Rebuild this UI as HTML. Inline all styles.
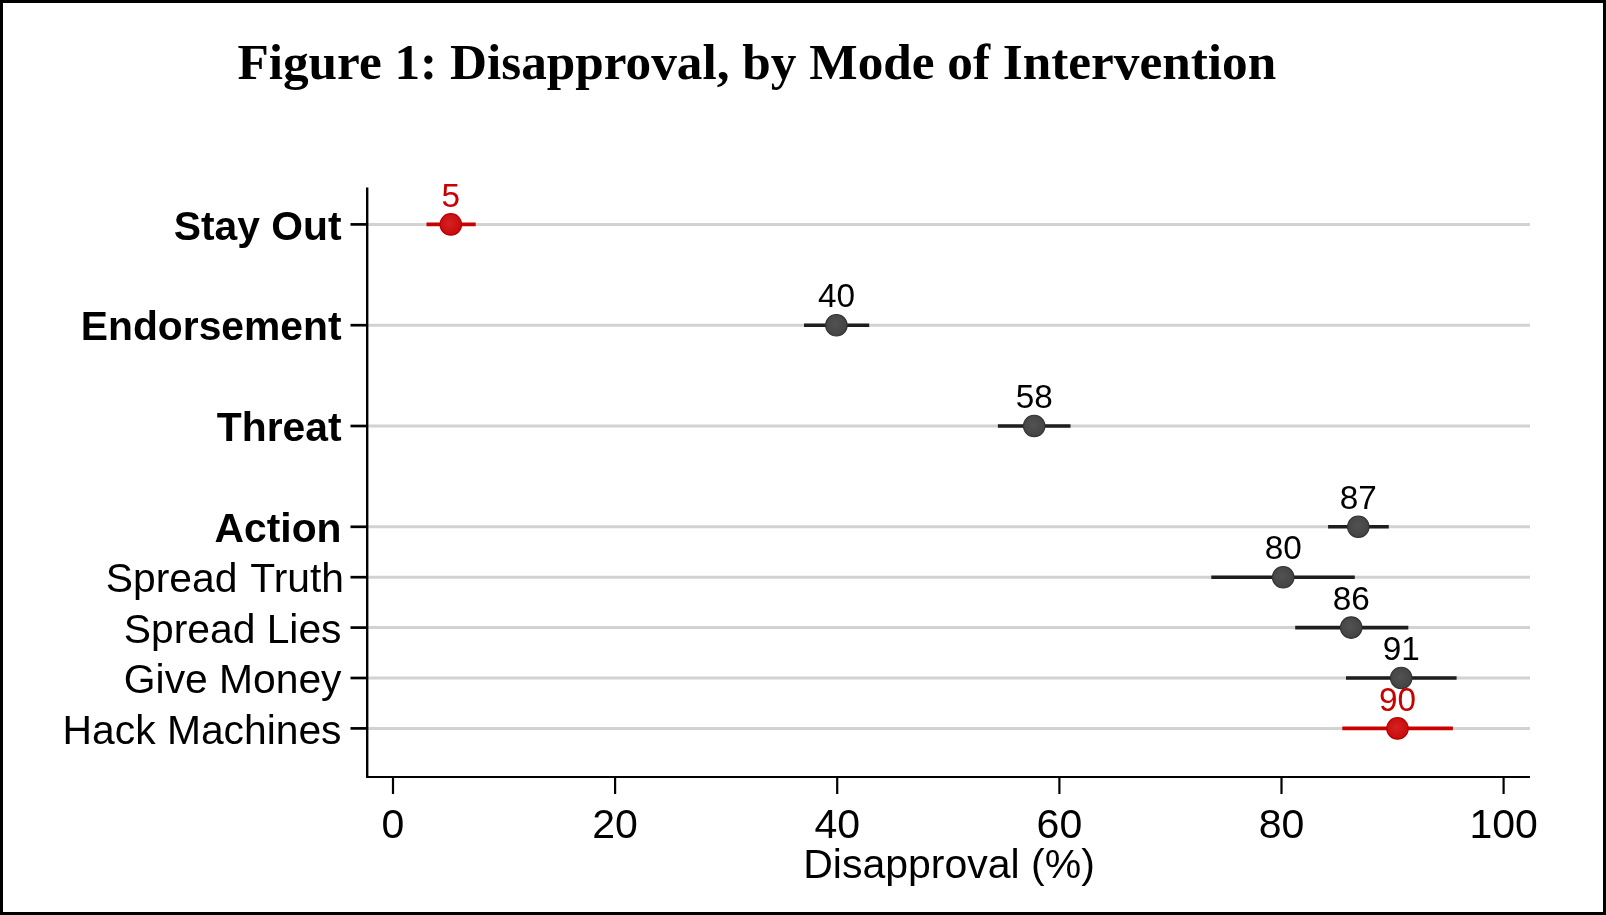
<!DOCTYPE html><html><head><meta charset="utf-8"><style>html,body{margin:0;padding:0;background:#fff;}svg{display:block;will-change:transform;}</style></head><body>
<svg width="1606" height="915" viewBox="0 0 1606 915">
<defs><radialGradient id="gg" cx="0.45" cy="0.45" r="0.6"><stop offset="0" stop-color="#525252"/><stop offset="1" stop-color="#424242"/></radialGradient><radialGradient id="rg" cx="0.45" cy="0.45" r="0.6"><stop offset="0" stop-color="#d42222"/><stop offset="1" stop-color="#c80808"/></radialGradient></defs>
<rect x="1.5" y="1.5" width="1603" height="912" fill="none" stroke="#000" stroke-width="3"/>
<text x="237.4" y="78.6" font-family="Liberation Serif, serif" font-weight="bold" font-size="51.25" fill="#000">Figure 1: Disapproval, by Mode of Intervention</text>
<line x1="368" y1="224.4" x2="1530" y2="224.4" stroke="#d2d2d2" stroke-width="3"/>
<line x1="368" y1="325.2" x2="1530" y2="325.2" stroke="#d2d2d2" stroke-width="3"/>
<line x1="368" y1="426.0" x2="1530" y2="426.0" stroke="#d2d2d2" stroke-width="3"/>
<line x1="368" y1="526.8" x2="1530" y2="526.8" stroke="#d2d2d2" stroke-width="3"/>
<line x1="368" y1="577.2" x2="1530" y2="577.2" stroke="#d2d2d2" stroke-width="3"/>
<line x1="368" y1="627.6" x2="1530" y2="627.6" stroke="#d2d2d2" stroke-width="3"/>
<line x1="368" y1="678.0" x2="1530" y2="678.0" stroke="#d2d2d2" stroke-width="3"/>
<line x1="368" y1="728.4" x2="1530" y2="728.4" stroke="#d2d2d2" stroke-width="3"/>
<line x1="367.2" y1="187.4" x2="367.2" y2="778" stroke="#000" stroke-width="2.4"/>
<line x1="366" y1="777" x2="1530" y2="777" stroke="#000" stroke-width="2.2"/>
<line x1="350.5" y1="224.4" x2="367" y2="224.4" stroke="#000" stroke-width="2.7"/>
<text x="341.5" y="239.5" text-anchor="end" font-family="Liberation Sans, sans-serif" font-weight="bold" font-size="40.8" fill="#000">Stay Out</text>
<line x1="350.5" y1="325.2" x2="367" y2="325.2" stroke="#000" stroke-width="2.7"/>
<text x="341.5" y="340.3" text-anchor="end" font-family="Liberation Sans, sans-serif" font-weight="bold" font-size="40.8" fill="#000">Endorsement</text>
<line x1="350.5" y1="426.0" x2="367" y2="426.0" stroke="#000" stroke-width="2.7"/>
<text x="341.5" y="441.1" text-anchor="end" font-family="Liberation Sans, sans-serif" font-weight="bold" font-size="40.8" fill="#000">Threat</text>
<line x1="350.5" y1="526.8" x2="367" y2="526.8" stroke="#000" stroke-width="2.7"/>
<text x="341.5" y="541.9" text-anchor="end" font-family="Liberation Sans, sans-serif" font-weight="bold" font-size="40.8" fill="#000">Action</text>
<line x1="350.5" y1="577.2" x2="367" y2="577.2" stroke="#000" stroke-width="2.7"/>
<text x="105.8" y="592.3" font-family="Liberation Sans, sans-serif" font-size="40.8" fill="#000">Spread <tspan dx="2.4">Truth</tspan></text>
<line x1="350.5" y1="627.6" x2="367" y2="627.6" stroke="#000" stroke-width="2.7"/>
<text x="341.5" y="642.7" text-anchor="end" font-family="Liberation Sans, sans-serif" font-weight="normal" font-size="40.8" fill="#000">Spread Lies</text>
<line x1="350.5" y1="678.0" x2="367" y2="678.0" stroke="#000" stroke-width="2.7"/>
<text x="341.5" y="693.1" text-anchor="end" font-family="Liberation Sans, sans-serif" font-weight="normal" font-size="40.8" fill="#000">Give Money</text>
<line x1="350.5" y1="728.4" x2="367" y2="728.4" stroke="#000" stroke-width="2.7"/>
<text x="341.5" y="743.5" text-anchor="end" font-family="Liberation Sans, sans-serif" font-weight="normal" font-size="40.8" fill="#000">Hack Machines</text>
<line x1="393.0" y1="777" x2="393.0" y2="794" stroke="#000" stroke-width="2.2"/>
<text x="393.0" y="837.8" text-anchor="middle" font-family="Liberation Sans, sans-serif" font-size="41" fill="#000">0</text>
<line x1="615.1" y1="777" x2="615.1" y2="794" stroke="#000" stroke-width="2.2"/>
<text x="615.1" y="837.8" text-anchor="middle" font-family="Liberation Sans, sans-serif" font-size="41" fill="#000">20</text>
<line x1="837.2" y1="777" x2="837.2" y2="794" stroke="#000" stroke-width="2.2"/>
<text x="837.2" y="837.8" text-anchor="middle" font-family="Liberation Sans, sans-serif" font-size="41" fill="#000">40</text>
<line x1="1059.4" y1="777" x2="1059.4" y2="794" stroke="#000" stroke-width="2.2"/>
<text x="1059.4" y="837.8" text-anchor="middle" font-family="Liberation Sans, sans-serif" font-size="41" fill="#000">60</text>
<line x1="1281.5" y1="777" x2="1281.5" y2="794" stroke="#000" stroke-width="2.2"/>
<text x="1281.5" y="837.8" text-anchor="middle" font-family="Liberation Sans, sans-serif" font-size="41" fill="#000">80</text>
<line x1="1503.6" y1="777" x2="1503.6" y2="794" stroke="#000" stroke-width="2.2"/>
<text x="1503.6" y="837.8" text-anchor="middle" font-family="Liberation Sans, sans-serif" font-size="41" fill="#000">100</text>
<text x="949" y="877.8" text-anchor="middle" font-family="Liberation Sans, sans-serif" font-size="41" fill="#000">Disapproval (%)</text>
<line x1="426.5" y1="224.4" x2="475.7" y2="224.4" stroke="#c80000" stroke-width="3.8"/>
<circle cx="450.8" cy="224.4" r="10.75" fill="url(#rg)" stroke="#b80000" stroke-width="1.1"/>
<line x1="804.0" y1="325.2" x2="869.2" y2="325.2" stroke="#1e1e1e" stroke-width="3.6"/>
<circle cx="836.4" cy="325.2" r="10.75" fill="url(#gg)" stroke="#333" stroke-width="1.1"/>
<line x1="997.9" y1="426.0" x2="1070.5" y2="426.0" stroke="#1e1e1e" stroke-width="3.6"/>
<circle cx="1034.2" cy="426.0" r="10.75" fill="url(#gg)" stroke="#333" stroke-width="1.1"/>
<line x1="1328.1" y1="526.8" x2="1388.8" y2="526.8" stroke="#1e1e1e" stroke-width="3.6"/>
<circle cx="1358.3" cy="526.8" r="10.75" fill="url(#gg)" stroke="#333" stroke-width="1.1"/>
<line x1="1211.3" y1="577.2" x2="1354.8" y2="577.2" stroke="#1e1e1e" stroke-width="3.6"/>
<circle cx="1283.2" cy="577.2" r="10.75" fill="url(#gg)" stroke="#333" stroke-width="1.1"/>
<line x1="1295.2" y1="627.6" x2="1408.3" y2="627.6" stroke="#1e1e1e" stroke-width="3.6"/>
<circle cx="1351.2" cy="627.6" r="10.75" fill="url(#gg)" stroke="#333" stroke-width="1.1"/>
<line x1="1346.0" y1="678.0" x2="1456.6" y2="678.0" stroke="#1e1e1e" stroke-width="3.6"/>
<circle cx="1401.2" cy="678.0" r="10.75" fill="url(#gg)" stroke="#333" stroke-width="1.1"/>
<line x1="1342.3" y1="728.4" x2="1452.9" y2="728.4" stroke="#c80000" stroke-width="3.8"/>
<circle cx="1397.5" cy="728.4" r="10.75" fill="url(#rg)" stroke="#b80000" stroke-width="1.1"/>
<text x="450.8" y="206.6" text-anchor="middle" font-family="Liberation Sans, sans-serif" font-size="33.3" fill="#c80000">5</text>
<text x="836.4" y="307.4" text-anchor="middle" font-family="Liberation Sans, sans-serif" font-size="33.3" fill="#000">40</text>
<text x="1034.2" y="408.2" text-anchor="middle" font-family="Liberation Sans, sans-serif" font-size="33.3" fill="#000">58</text>
<text x="1358.3" y="509.0" text-anchor="middle" font-family="Liberation Sans, sans-serif" font-size="33.3" fill="#000">87</text>
<text x="1283.2" y="559.4" text-anchor="middle" font-family="Liberation Sans, sans-serif" font-size="33.3" fill="#000">80</text>
<text x="1351.2" y="609.8" text-anchor="middle" font-family="Liberation Sans, sans-serif" font-size="33.3" fill="#000">86</text>
<text x="1401.2" y="660.2" text-anchor="middle" font-family="Liberation Sans, sans-serif" font-size="33.3" fill="#000">91</text>
<text x="1397.5" y="710.6" text-anchor="middle" font-family="Liberation Sans, sans-serif" font-size="33.3" fill="#c80000">90</text>
</svg></body></html>
